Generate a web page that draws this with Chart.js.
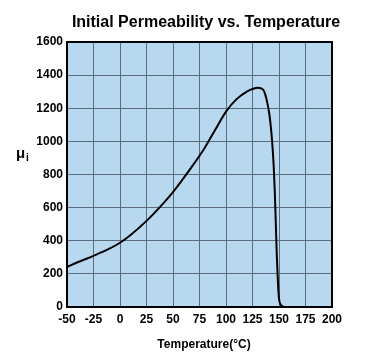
<!DOCTYPE html>
<html>
<head>
<meta charset="utf-8">
<script src="https://cdn.jsdelivr.net/npm/chart.js@4/dist/chart.umd.min.js"></script>
<style>
html,body{margin:0;padding:0;background:#fff;}
#wrap{width:365px;height:356px;position:relative;}
</style>
</head>
<body>
<div id="wrap"><canvas id="c" width="365" height="356"></canvas></div>
<script>
const chartTitle = "Initial Permeability vs. Temperature";
const xTitle = "Temperature(°C)";
const yTitleMain = "μ";
const yTitleSub = "i";
const temperature = [-50,-40,-25,-10,0,10,25,40,50,60,70,80,90,100,110,120,125,130,135,138,141,143.5,145,146,147,148,149,150,151.5,154];
const permeability = [242,270,309,352,388,435,520,620,694,778,867,962,1072,1180,1255,1302,1316,1324,1312,1260,1160,1000,850,700,500,300,150,50,15,3];
const xTicks = [-50,-25,0,25,50,75,100,125,150,175,200];
const yTicks = [0,200,400,600,800,1000,1200,1400,1600];

const FONT = "'Liberation Sans', Arial, sans-serif";

const decor = {
  id: 'decor',
  beforeDraw(chart) {
    const {ctx, chartArea: a} = chart;
    ctx.save();
    ctx.fillStyle = '#b8d8ef';
    ctx.fillRect(a.left, a.top, a.right - a.left, a.bottom - a.top);
    ctx.restore();
  },
  afterDraw(chart) {
    const {ctx, chartArea: a} = chart;
    ctx.save();
    ctx.strokeStyle = '#000';
    ctx.lineWidth = 2;
    ctx.strokeRect(a.left, a.top, a.right - a.left, a.bottom - a.top);
    ctx.fillStyle = '#000';
    ctx.textBaseline = 'alphabetic';
    ctx.textAlign = 'center';
    ctx.font = 'bold 16px ' + FONT;
    ctx.fillText(chartTitle, 206, 27);
    ctx.font = 'bold 12px ' + FONT;
    ctx.fillText(xTitle, 204, 348);
    ctx.textAlign = 'left';
    ctx.font = 'bold 15px ' + FONT;
    ctx.fillText(yTitleMain, 16, 158);
    ctx.font = 'bold 10px ' + FONT;
    ctx.fillText(yTitleSub, 26, 161);
    ctx.restore();
  }
};

new Chart(document.getElementById('c'), {
  type: 'scatter',
  data: {
    datasets: [{
      data: temperature.map((t, i) => ({x: t, y: permeability[i]})),
      showLine: true,
      borderColor: '#000',
      borderWidth: 2,
      pointRadius: 0,
      cubicInterpolationMode: 'monotone',
      fill: false
    }]
  },
  options: {
    responsive: false,
    animation: false,
    layout: {padding: {left: 0, right: 33, top: 42, bottom: 0}},
    plugins: {legend: {display: false}, title: {display: false}, tooltip: {enabled: false}},
    scales: {
      x: {
        type: 'linear', min: -50, max: 200,
        afterBuildTicks(s) { s.ticks = xTicks.map(v => ({value: v})); },
        afterFit(s) { s.height = 49; },
        grid: {color: '#5b6c7c', lineWidth: 1, drawTicks: false},
        border: {display: false},
        ticks: {color: '#000', font: {family: FONT, weight: 'bold', size: 12}, padding: 5, maxRotation: 0, autoSkip: false, callback: v => String(v)}
      },
      y: {
        type: 'linear', min: 0, max: 1600,
        afterBuildTicks(s) { s.ticks = yTicks.map(v => ({value: v})); },
        afterFit(s) { s.width = 67; },
        grid: {color: '#5b6c7c', lineWidth: 1, drawTicks: false},
        border: {display: false},
        ticks: {color: '#000', font: {family: FONT, weight: 'bold', size: 12}, padding: 4, autoSkip: false, callback: v => String(v)}
      }
    }
  },
  plugins: [decor]
});
</script>
</body>
</html>
